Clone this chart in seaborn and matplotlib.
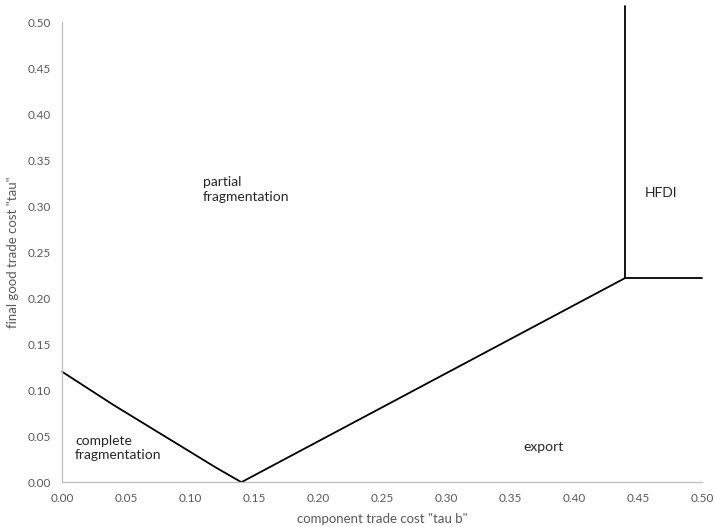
import numpy as np
import pandas as pd
import matplotlib
matplotlib.use("Agg")
import matplotlib.pyplot as plt
import seaborn as sns

# boundary curves
cf_x = [0.00, 0.02, 0.04, 0.06, 0.08, 0.10, 0.12, 0.14]
cf_y = [0.120, 0.102, 0.084, 0.067, 0.050, 0.033, 0.016, 0.000]
exp_x = [0.14, 0.44]
exp_y = [0.000, 0.222]
hfdi_vx = [0.44, 0.44]
hfdi_vy = [0.222, 0.518]
hfdi_hx = [0.44, 0.50]
hfdi_hy = [0.222, 0.222]

region_labels = ["partial\nfragmentation", "complete\nfragmentation", "export", "HFDI"]
label_x = [0.110, 0.010, 0.360, 0.455]
label_y = [0.318, 0.037, 0.038, 0.314]

x_ticks = np.round(np.arange(0, 0.501, 0.05), 2)
y_ticks = np.round(np.arange(0, 0.501, 0.05), 2)

sns.set_style("white")
plt.rcParams['font.family'] = ['Lato', 'DejaVu Sans']

fig, ax = plt.subplots(figsize=(7.15, 5.27), dpi=100)

segments = [
    (cf_x, cf_y, "cf"),
    (exp_x, exp_y, "exp"),
    (hfdi_vx, hfdi_vy, "hv"),
    (hfdi_hx, hfdi_hy, "hh"),
]
for xs, ys, name in segments:
    df = pd.DataFrame({"x": xs, "y": ys})
    sns.lineplot(data=df, x="x", y="y", ax=ax, color="black", linewidth=1.3,
                 sort=False, estimator=None, clip_on=False)

for txt, lx, ly in zip(region_labels, label_x, label_y):
    ax.text(lx, ly, txt, fontsize=10, color="#262626", va="center", ha="left",
            linespacing=1.25)

ax.set_xlim(0, 0.5)
ax.set_ylim(0, 0.5)
ax.set_xticks(x_ticks)
ax.set_yticks(y_ticks)
ax.set_xticklabels([f"{v:.2f}" for v in x_ticks])
ax.set_yticklabels([f"{v:.2f}" for v in y_ticks])
ax.tick_params(axis="both", colors="#595959", labelsize=8.5, length=0, pad=8)

for side in ["top", "right"]:
    ax.spines[side].set_visible(False)
for side in ["left", "bottom"]:
    ax.spines[side].set_color("#bfbfbf")
    ax.spines[side].set_linewidth(0.9)

ax.set_xlabel('component trade cost "tau b"', color="#595959", fontsize=9.5, labelpad=6)
ax.set_ylabel('final good trade cost "tau"', color="#595959", fontsize=9.5, labelpad=6)

fig.subplots_adjust(left=0.087, right=0.982, bottom=0.085, top=0.958)
fig.savefig("out.png", dpi=100)
